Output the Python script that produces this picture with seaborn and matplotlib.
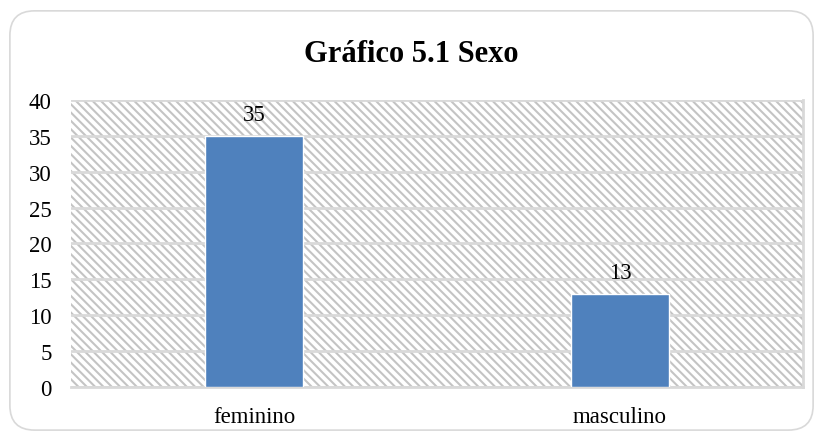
import matplotlib
matplotlib.use("Agg")
import matplotlib.pyplot as plt
import pandas as pd
import seaborn as sns
from matplotlib.patches import FancyBboxPatch, Rectangle

categorias = ["feminino", "masculino"]
valores = [35, 13]
yticks = [0, 5, 10, 15, 20, 25, 30, 35, 40]
titulo = "Gráfico 5.1 Sexo"

sns.set_style("white")
plt.rcParams["font.family"] = ["Liberation Serif", "DejaVu Serif"]
plt.rcParams["hatch.linewidth"] = 1.5
plt.rcParams["text.color"] = "black"
plt.rcParams["xtick.color"] = "black"
plt.rcParams["ytick.color"] = "black"

df = pd.DataFrame({"sexo": categorias, "n": valores})

fig = plt.figure(figsize=(8.23, 4.39), dpi=100)
ax = fig.add_axes([0.0863, 0.1162, 0.8894, 0.654])

# moldura arredondada
fig.patches.append(FancyBboxPatch((0.012, 0.018), 0.976, 0.955,
                                  boxstyle="round,pad=0,rounding_size=0.03",
                                  transform=fig.transFigure, facecolor="none",
                                  edgecolor="#d9d9d9", lw=1.2, mutation_aspect=823 / 439))

# fundo hachurado
ax.add_patch(Rectangle((0, 0), 1, 1, transform=ax.transAxes, facecolor="white",
                       edgecolor="#c4c4c4", hatch="\\" * 4, lw=0, zorder=0))

sns.barplot(data=df, x="sexo", y="n", color="#4f81bd", width=0.27,
            saturation=1, ax=ax, zorder=3)

ax.set_ylim(0, 40)
ax.set_yticks(yticks)
for y in yticks:
    ax.axhline(y, color="#d9d9d9", lw=2, zorder=1)
ax.set_xlabel("")
ax.set_ylabel("")
for s in ["left", "top"]:
    ax.spines[s].set_visible(False)
for s in ["right", "bottom"]:
    ax.spines[s].set_color("#d9d9d9")
    ax.spines[s].set_linewidth(2)
ax.tick_params(axis="both", length=0, labelsize=16.5, labelcolor="black")
ax.tick_params(axis="y", pad=14)
ax.tick_params(axis="x", pad=14)

ax.bar_label(ax.containers[0], fontsize=16.5, padding=8, color="black")

fig.text(0.5, 1 - 55 / 439, titulo, ha="center", va="center",
         fontsize=22, fontweight="bold", color="black")

plt.savefig("out.png", dpi=100)
